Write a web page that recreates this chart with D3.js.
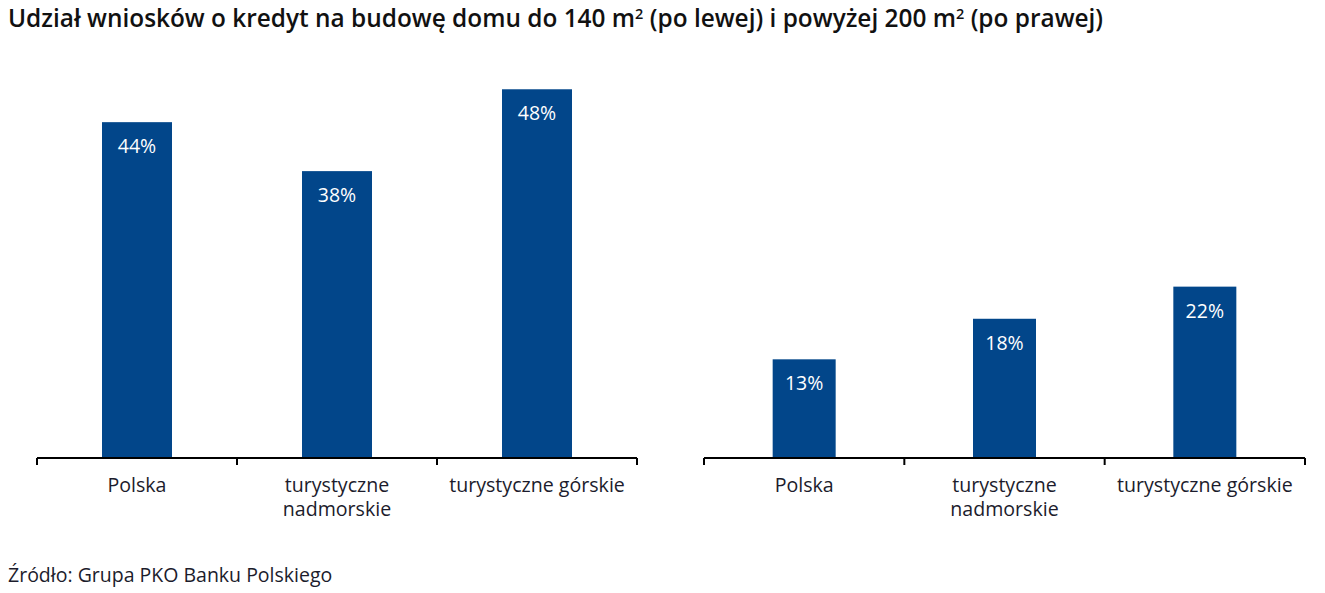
<!DOCTYPE html>
<html>
<head>
<meta charset="utf-8">
<script src="https://cdn.jsdelivr.net/npm/d3@7"></script>
<style>
  html, body { margin: 0; padding: 0; background: #fff; }
  svg { display: block; }
</style>
</head>
<body>
<svg id="chart" width="1325" height="593"></svg>
<script>
const categories = ["Polska", "turystyczne\nnadmorskie", "turystyczne górskie"];
const valuesLeft = [43.9, 37.5, 48.2];   // do 140 m2
const valuesRight = [12.9, 18.2, 22.4];  // powyżej 200 m2
const titleParts = ["Udział wniosków o kredyt na budowę domu do 140 m", "2", " (po lewej) i powyżej 200 m", "2", " (po prawej)"];
const sourceText = "Źródło: Grupa PKO Banku Polskiego";

const svg = d3.select("#chart");
const font = "'Open Sans', Lato, sans-serif";
const barColor = "#02468a";
const textColor = "#1c1c2c";

// title
const title = svg.append("text")
  .attr("x", 8).attr("y", 27)
  .attr("font-family", font).attr("font-size", 24.4).attr("font-weight", 600)
  .attr("fill", "#111");
titleParts.forEach((t, i) => {
  const sup = i % 2 === 1;
  title.append("tspan")
    .attr("font-size", sup ? 14.5 : 24.4)
    .attr("dy", sup ? -8 : (i > 0 ? 8 : 0))
    .text(t);
});

const y = d3.scaleLinear().domain([0, 50]).range([458, 75.5]);

function panel(x0, x1, values, barW) {
  const x = d3.scaleBand().domain(d3.range(categories.length)).range([x0, x1]).padding(0);
  const g = svg.append("g");
  g.selectAll("rect.bar").data(values).join("rect")
    .attr("class", "bar")
    .attr("x", (d, i) => x(i) + x.bandwidth() / 2 - barW / 2)
    .attr("width", barW)
    .attr("y", d => y(d))
    .attr("height", d => y(0) - y(d))
    .attr("fill", barColor);
  g.selectAll("text.val").data(values).join("text")
    .attr("class", "val")
    .attr("x", (d, i) => x(i) + x.bandwidth() / 2)
    .attr("y", d => y(d) + 31)
    .attr("text-anchor", "middle")
    .attr("font-family", font).attr("font-size", 19.5)
    .attr("fill", "#fff")
    .text(d => Math.round(d) + "%");
  // axis
  const axis = g.append("g").attr("transform", `translate(0,${y(0)})`);
  axis.append("line").attr("x1", x0).attr("x2", x1).attr("y1", 0).attr("y2", 0)
    .attr("stroke", "#000").attr("stroke-width", 2);
  const ticks = d3.range(categories.length + 1).map(i => x0 + i * x.step());
  axis.selectAll("line.tick").data(ticks).join("line")
    .attr("class", "tick")
    .attr("x1", d => d).attr("x2", d => d).attr("y1", 0).attr("y2", 7)
    .attr("stroke", "#000").attr("stroke-width", 2);
  const lbl = g.selectAll("text.cat").data(categories).join("text")
    .attr("class", "cat")
    .attr("x", (d, i) => x(i) + x.bandwidth() / 2)
    .attr("y", 492)
    .attr("text-anchor", "middle")
    .attr("font-family", font).attr("font-size", 19.6)
    .attr("fill", textColor);
  lbl.each(function(d, i) {
    const lines = d.split("\n");
    const t = d3.select(this);
    lines.forEach((l, j) => {
      t.append("tspan")
        .attr("x", x(i) + x.bandwidth() / 2)
        .attr("dy", j === 0 ? 0 : 24)
        .text(l);
    });
  });
}

panel(37, 637, valuesLeft, 70);
panel(704, 1305, valuesRight, 63);

svg.append("text")
  .attr("x", 8).attr("y", 582)
  .attr("font-family", font).attr("font-size", 19.5)
  .attr("fill", textColor)
  .text(sourceText);
</script>
</body>
</html>
